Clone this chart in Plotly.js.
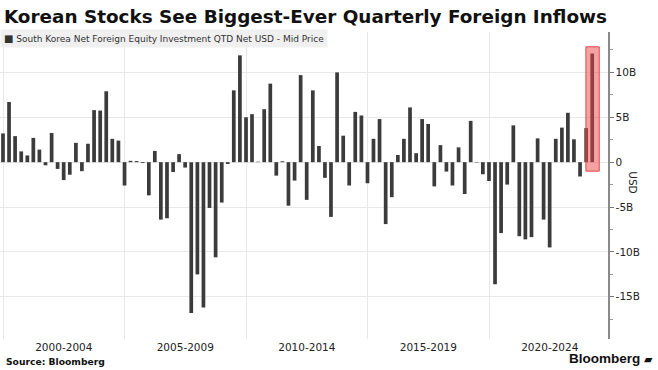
<!DOCTYPE html>
<html>
<head>
<meta charset="utf-8">
<script src="https://cdn.plot.ly/plotly-3.0.1.min.js"></script>
<style>html,body{margin:0;padding:0;background:#fff;}#chart{width:658px;height:370px;}</style>
</head>
<body>
<div id="chart"></div>
<script>
// Quarter-end dates (1999 Q4 .. 2024 Q1)
const quarters = [
  '1999-12-31',
  '2000-03-31','2000-06-30','2000-09-30','2000-12-31',
  '2001-03-31','2001-06-30','2001-09-30','2001-12-31',
  '2002-03-31','2002-06-30','2002-09-30','2002-12-31',
  '2003-03-31','2003-06-30','2003-09-30','2003-12-31',
  '2004-03-31','2004-06-30','2004-09-30','2004-12-31',
  '2005-03-31','2005-06-30','2005-09-30','2005-12-31',
  '2006-03-31','2006-06-30','2006-09-30','2006-12-31',
  '2007-03-31','2007-06-30','2007-09-30','2007-12-31',
  '2008-03-31','2008-06-30','2008-09-30','2008-12-31',
  '2009-03-31','2009-06-30','2009-09-30','2009-12-31',
  '2010-03-31','2010-06-30','2010-09-30','2010-12-31',
  '2011-03-31','2011-06-30','2011-09-30','2011-12-31',
  '2012-03-31','2012-06-30','2012-09-30','2012-12-31',
  '2013-03-31','2013-06-30','2013-09-30','2013-12-31',
  '2014-03-31','2014-06-30','2014-09-30','2014-12-31',
  '2015-03-31','2015-06-30','2015-09-30','2015-12-31',
  '2016-03-31','2016-06-30','2016-09-30','2016-12-31',
  '2017-03-31','2017-06-30','2017-09-30','2017-12-31',
  '2018-03-31','2018-06-30','2018-09-30','2018-12-31',
  '2019-03-31','2019-06-30','2019-09-30','2019-12-31',
  '2020-03-31','2020-06-30','2020-09-30','2020-12-31',
  '2021-03-31','2021-06-30','2021-09-30','2021-12-31',
  '2022-03-31','2022-06-30','2022-09-30','2022-12-31',
  '2023-03-31','2023-06-30','2023-09-30','2023-12-31',
  '2024-03-31'
];

// Net foreign equity investment, QTD, billions USD
const netFlowsB = [
  3.2,
  6.7, 2.9, 1.2, 0.75,
  2.7, 1.4, -0.35, 3.25,
  -0.75, -2.0, -1.4, 2.15,
  -1.0, 2.05, 5.8, 5.75,
  7.9, 2.6, 2.4, -2.6,
  0.15, 0.12, -0.1, -3.7,
  1.25, -6.4, -6.25, -1.1,
  0.9, -0.6, -16.8, -12.5,
  -16.2, -5.1, -10.6, -4.5,
  -0.2, 8.0, 11.9, 5.0,
  5.35, 0.05, 5.9, 8.75,
  -1.5, 0.1, -4.85, -2.05,
  9.7, -4.2, 8.0, 1.8,
  -1.75, -6.1, 10.0, 2.95,
  -2.6, 5.6, 5.2, -2.35,
  2.6, 4.8, -6.9, -3.9,
  0.8, 2.6, 6.1, 1.0,
  4.8, 4.25, -2.7, 1.9,
  -1.05, -2.6, 1.65, -3.55,
  4.6, -0.05, -1.35, -2.1,
  -13.6, -7.9, -2.5, 4.1,
  -8.25, -8.6, -8.35, 2.65,
  -6.4, -9.5, 2.6, 3.85,
  5.5, 2.55, -1.6, 3.8,
  12.1
];

// X axis period labels and boundaries
const periodLabels = ['2000-2004', '2005-2009', '2010-2014', '2015-2019', '2020-2024'];
const periodCenters = ['2002-07-02', '2007-07-02', '2012-07-02', '2017-07-02', '2022-07-02'];
const periodBounds = ['2000-01-01', '2005-01-01', '2010-01-01', '2015-01-01', '2020-01-01'];

// Y axis ticks
const yTickVals = [-15, -10, -5, 0, 5, 10];
const yTickText = ['-15B', '-10B', '-5B', '0', '5B', '10B'];

const seriesName = 'South Korea Net Foreign Equity Investment QTD Net USD - Mid Price';

// Highlighted quarter (record inflow)
const hiIdx = netFlowsB.length - 1;
const DAY = 86400000;
const hiDate = new Date(quarters[hiIdx] + 'T00:00:00Z').getTime();
const hiPadBefore = 95 * DAY, hiPadAfter = 105 * DAY;

const trace = {
  type: 'bar',
  x: quarters,
  y: netFlowsB,
  name: seriesName,
  marker: {color: '#3b3b3b', line: {width: 0}},
  showlegend: false,
  hoverinfo: 'x+y'
};

const fmt = t => new Date(t).toISOString().slice(0, 10);
const FONT = 'DejaVu Sans, Verdana, sans-serif';

const layout = {
  width: 658, height: 370,
  margin: {l: 0, r: 50, t: 32, b: 31},
  paper_bgcolor: '#ffffff',
  plot_bgcolor: '#ffffff',
  bargap: 0.38,
  font: {family: FONT, color: '#222'},
  title: {
    text: '<b>Korean Stocks See Biggest-Ever Quarterly Foreign Inflows</b>',
    font: {family: FONT, size: 18.4, color: '#111'},
    xref: 'container', yref: 'container', x: 0.006, y: 0.955,
    xanchor: 'left', yanchor: 'middle'
  },
  xaxis: {
    type: 'date',
    range: ['1999-11-16', '2024-11-23'],
    tickmode: 'array',
    tickvals: periodCenters,
    ticktext: periodLabels,
    ticks: '',
    showgrid: false,
    zeroline: false,
    showline: false,
    tickfont: {family: FONT, size: 10.5, color: '#222'},
    minor: {
      tickmode: 'array',
      tickvals: periodBounds,
      showgrid: true,
      gridcolor: '#e8e8e8',
      gridwidth: 1,
      ticks: ''
    }
  },
  yaxis: {
    side: 'right',
    range: [-19.7, 14.5],
    tickmode: 'array',
    tickvals: yTickVals,
    ticktext: yTickText,
    ticks: 'outside',
    ticklen: 4,
    tickcolor: '#777',
    tickwidth: 1,
    showline: true,
    linecolor: '#8a8a8a',
    linewidth: 1.5,
    showgrid: true,
    gridcolor: '#e8e8e8',
    gridwidth: 1,
    zeroline: false,
    tickfont: {family: FONT, size: 10.5, color: '#222'},
    minor: {dtick: 2.5, ticks: 'outside', ticklen: 3, tickcolor: '#999', showgrid: false}
  },
  shapes: [{
    type: 'rect', xref: 'x', yref: 'y', layer: 'above',
    x0: fmt(hiDate - hiPadBefore), x1: fmt(hiDate + hiPadAfter),
    y0: -1.0, y1: netFlowsB[hiIdx] + 0.75,
    fillcolor: 'rgba(240,70,70,0.5)',
    line: {color: '#e04848', width: 1}
  }],
  annotations: [
    {
      xref: 'paper', yref: 'paper', x: 0, y: 0.979, xanchor: 'left', yanchor: 'middle',
      text: '<span style="font-size:10px">■</span> ' + seriesName,
      showarrow: false, font: {family: FONT, size: 9, color: '#333'},
      bgcolor: 'rgba(238,238,238,0.9)', borderpad: 3
    },
    {
      xref: 'paper', yref: 'paper', x: 1.041, y: 0.511, xanchor: 'center', yanchor: 'middle',
      text: 'USD', textangle: 90, showarrow: false, font: {family: FONT, size: 10.5, color: '#222'}
    },
    {
      xref: 'paper', yref: 'paper', x: 0.006, y: -0.072, xanchor: 'left', yanchor: 'middle',
      text: '<b>Source: Bloomberg</b>', showarrow: false, font: {family: FONT, size: 9.2, color: '#111'}
    },
    {
      xref: 'paper', yref: 'paper', x: 1.078, y: -0.062, xanchor: 'right', yanchor: 'middle',
      text: '<b>Bloomberg</b> <span style="font-size:11px">▰</span>', showarrow: false,
      font: {family: 'Liberation Sans, Arial, sans-serif', size: 13.5, color: '#111'}
    }
  ]
};

Plotly.newPlot('chart', [trace], layout, {staticPlot: true, displayModeBar: false});
</script>
</body>
</html>
